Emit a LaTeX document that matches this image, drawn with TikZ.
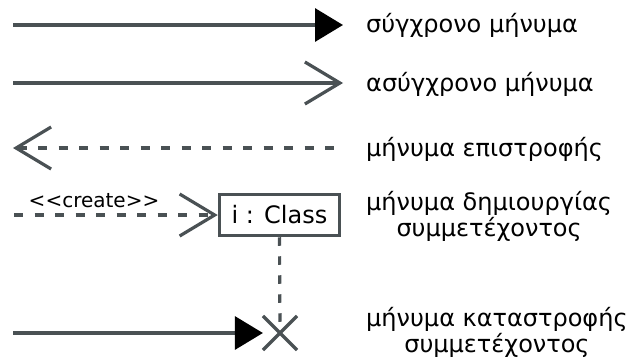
\documentclass[tikz,border=0pt]{standalone}
\usepackage{fontspec}
\setmainfont{DejaVu Sans}
\usetikzlibrary{arrows.meta,shapes.misc}
\definecolor{ink}{RGB}{74,81,84}
\tikzset{
  msg/.style={draw=ink, line width=3.2pt},
  dashmsg/.style={msg, dash pattern=on 9pt off 11.5pt},
  synctip/.style={-{Triangle[length=28pt,width=33pt,color=black]}},
  asynctip/.style={-{Straight Barb[length=35pt,width=42pt,line width=3.2pt]}},
  returntip/.style={{Straight Barb[length=35pt,width=42pt,line width=3.2pt]}-},
  legend/.style={anchor=base west, inner sep=0pt, font=\fontsize{24}{22.5}\selectfont, align=center},
  objbox/.style={draw=ink, line width=3.5pt, minimum width=120pt, minimum height=41pt, inner sep=0pt, font=\fontsize{24}{26}\selectfont},
  killmark/.style={cross out, draw=ink, line width=3.2pt, minimum size=31pt, inner sep=0pt}
}
\begin{document}
\begin{tikzpicture}[x=1pt,y=-1pt]
\useasboundingbox (0,0) rectangle (628,361);

% synchronous message
\coordinate (s1) at (13,25);
\coordinate (e1) at (343,25);
\draw[msg,synctip] (s1) -- (e1);
\node[legend] (t1) at (366,33) {σύγχρονο μήνυμα};

% asynchronous message
\coordinate (s2) at (13,83);
\coordinate (e2) at (343,83);
\draw[msg,asynctip] (s2) -- (e2);
\node[legend] (t2) at (366,91) {ασύγχρονο μήνυμα};

% return message
\coordinate (s3) at (13,148);
\coordinate (e3) at (343,148);
\draw[dashmsg,returntip] (s3) -- (e3);
\node[legend] (t3) at (366,156) {μήνυμα επιστροφής};

% create message and participant
\node[objbox] (obj) at (279.5,215) {i : Class};
\coordinate (s4) at (14,215);
\draw[dashmsg,asynctip] (s4) -- (obj.west);
\node[anchor=base, inner sep=0pt, font=\fontsize{20}{22}\selectfont] (crt) at (94,207) {<\kern0pt<create>\kern0pt>};
\node[legend] (t4) at (366,236) {μήνυμα δημιουργίας\\συμμετέχοντος};

% destroy message and lifeline end
\node[killmark] (kill) at (280,333) {};
\draw[draw=ink, line width=3.2pt, dash pattern=on 8.5pt off 10.5pt] (obj.south) -- (kill.center);
\coordinate (s5) at (13,333);
\draw[msg,synctip] (s5) -- (kill.west);
\node[legend] (t5) at (366,352) {μήνυμα καταστροφής\\συμμετέχοντος};
\end{tikzpicture}
\end{document}
